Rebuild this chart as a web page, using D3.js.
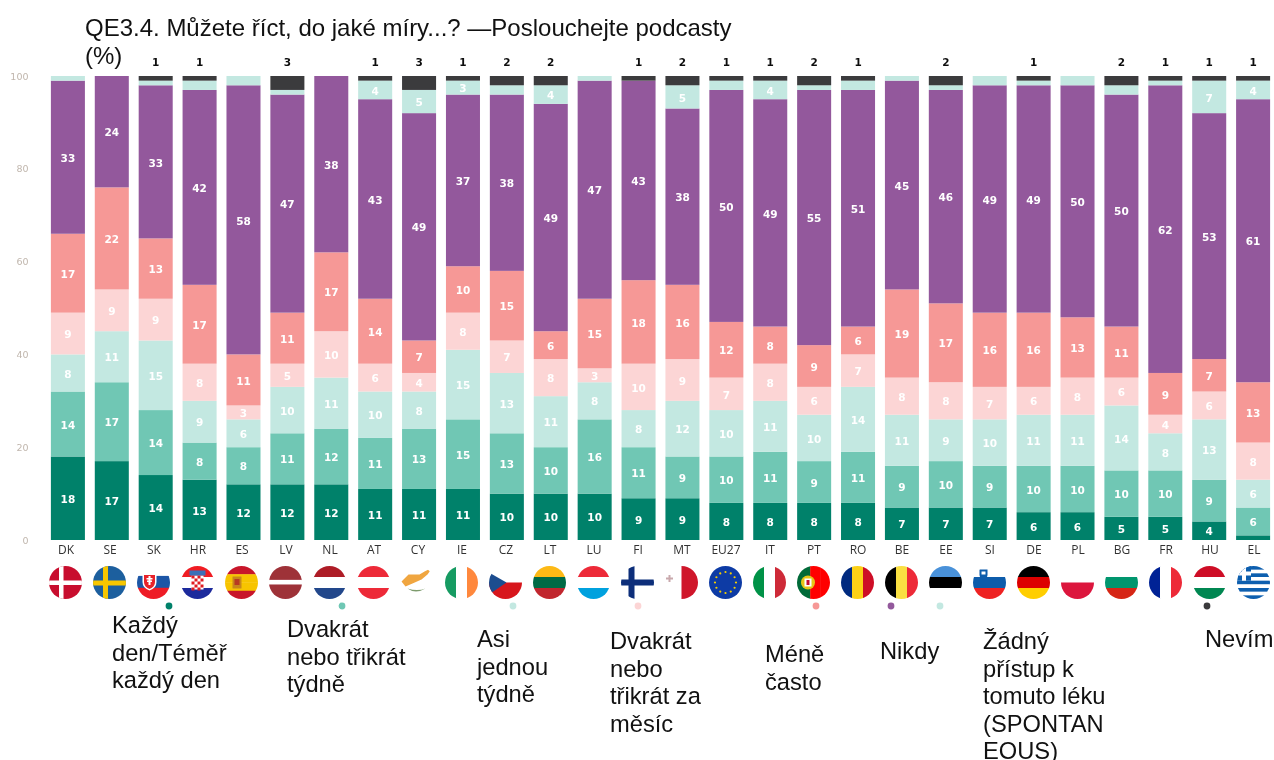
<!DOCTYPE html>
<html lang="cs"><head><meta charset="utf-8">
<script src="https://cdnjs.cloudflare.com/ajax/libs/d3/7.8.5/d3.min.js"></script>
<style>html,body{margin:0;background:#fff}svg{display:block}
.big{font-family:"Liberation Sans",Arial,sans-serif;font-size:23.7px;fill:#111}
.ttl{font-size:24px}
</style></head><body><svg id="c" width="1274" height="760"></svg>
<script>
const categories=["DK","SE","SK","HR","ES","LV","NL","AT","CY","IE","CZ","LT","LU","FI","MT","EU27","IT","PT","RO","BE","EE","SI","DE","PL","BG","FR","HU","EL"];
const daily=[18,17,14,13,12,12,12,11,11,11,10,10,10,9,9,8,8,8,8,7,7,7,6,6,5,5,4,1];
const twiceWeek=[14,17,14,8,8,11,12,11,13,15,13,10,16,11,9,10,11,9,11,9,10,9,10,10,10,10,9,6];
const weekly=[8,11,15,9,6,10,11,10,8,15,13,11,8,8,12,10,11,10,14,11,9,10,11,11,14,8,13,6];
const twiceMonth=[9,9,9,8,3,5,10,6,4,8,7,8,3,10,9,7,8,6,7,8,8,7,6,8,6,4,6,8];
const lessOften=[17,22,13,17,11,11,17,14,7,10,15,6,15,18,16,12,8,9,6,19,17,16,16,13,11,9,7,13];
const never=[33,24,33,42,58,47,38,43,49,37,38,49,47,43,38,50,49,55,51,45,46,49,49,50,50,62,53,61];
const noAccess=[1,0,1,2,2,1,0,4,5,3,2,4,1,0,5,2,4,1,2,1,1,2,1,2,2,1,7,4];
const dontKnow=[0,0,1,1,0,3,0,1,3,1,2,2,0,1,2,1,1,2,1,0,2,0,1,0,2,1,1,1];
const seriesNames=["Každý den/Téměř každý den","Dvakrát nebo třikrát týdně","Asi jednou týdně","Dvakrát nebo třikrát za měsíc","Méně často","Nikdy","Žádný přístup k tomuto léku (SPONTANEOUS)","Nevím"];
const seriesValues=[daily,twiceWeek,weekly,twiceMonth,lessOften,never,noAccess,dontKnow];
const seriesColors=["#00816a","#6fc7b4","#c3e8e1","#fcd5d5","#f69896","#93599c","#c3e8e1","#3b3a3c"];
const yTicks=[0,20,40,60,80,100];
const titleLines=["QE3.4. Můžete říct, do jaké míry...? —Poslouchejte podcasty","(%)"];
const legendLines=[["Každý","den/Téměř","každý den"],["Dvakrát","nebo třikrát","týdně"],["Asi","jednou","týdně"],["Dvakrát","nebo","třikrát za","měsíc"],["Méně","často"],["Nikdy"],["Žádný","přístup k","tomuto léku","(SPONTAN","EOUS)"],["Nevím"]];
const legendDotX=[169,342,513,638,816,891,940,1207];
const legendTextX=[112,287,477,610,765,880,983,1205];
const legendTextY=[633,637,647,649,662,659,649,647];
const flagDefs={DK:["h",["#c8102e"]],SE:["h",["#1f5f9e"]],SK:["h",["#fff","#1b56a6","#ee1c25"],[.3,.36,.34]],HR:["h",["#f01c24","#fff","#1f2a9c"]],ES:["h",["#c8152b","#f7c400","#f7c400","#c8152b"]],LV:["h",["#9e3039","#fff","#9e3039"],[.42,.14,.44]],NL:["h",["#ae1c28","#fff","#21468b"]],AT:["h",["#ed2939","#fff","#ed2939"]],CY:["h",["#fff"]],IE:["v",["#169b62","#fff","#ff883e"]],CZ:["h",["#fff","#d7141a"]],LT:["h",["#fdb913","#006a44","#c1272d"]],LU:["h",["#ed2939","#fff","#00a1de"]],FI:["h",["#fff"]],MT:["v",["#fff","#cf142b"]],EU27:["h",["#0b3aa5"]],IT:["v",["#009246","#fff","#ce2b37"]],PT:["v",["#046a38","#ff0000","#ff0000"],[.4,.3,.3]],RO:["v",["#002b7f","#fcd116","#ce1126"]],BE:["v",["#000","#fae042","#ed2939"]],EE:["h",["#4891d9","#000","#fff"]],SI:["h",["#fff","#0a5bab","#ee2424"]],DE:["h",["#000","#dd0000","#ffce00"]],PL:["h",["#fff","#dc143c"]],BG:["h",["#fff","#00966e","#d62612"]],FR:["v",["#002395","#fff","#ed2939"]],HU:["h",["#ce1126","#fff","#008751"]],EL:["h",["#0d5eaf","#fff","#0d5eaf","#fff","#0d5eaf","#fff","#0d5eaf","#fff","#0d5eaf"]]};

const svg=d3.select("#c");
const defs=svg.append("defs");
defs.append("filter").attr("id","soft").attr("x","-2%").attr("y","-2%").attr("width","104%").attr("height","104%").append("feGaussianBlur").attr("stdDeviation",0.5);
const x=d3.scaleBand().domain(categories).range([46.5,1274.5]).paddingInner(0.225).paddingOuter(0.1);
const y=d3.scaleLinear().domain([0,100]).range([540,76]);
const chart=svg.append("g").attr("filter","url(#soft)");

const yAxis=d3.axisLeft(y).tickValues(yTicks).tickSize(0);
const yg=chart.append("g").attr("transform","translate(28.5,0)").call(yAxis);
yg.select(".domain").remove();
yg.selectAll("text").attr("fill","#c0b6ad").attr("font-family","'DejaVu Sans'").attr("font-size",9.5).attr("x",0).attr("dy","0.32em");

const stackData=categories.map((c,i)=>{const o={c};seriesNames.forEach((s,k)=>o[s]=seriesValues[k][i]);return o;});
const stacked=d3.stack().keys(seriesNames)(stackData);
stacked.forEach((layer,k)=>{
  const g=chart.append("g");
  g.selectAll("rect").data(layer).join("rect")
   .attr("x",d=>x(d.data.c)).attr("width",x.bandwidth())
   .attr("y",d=>y(d[1])).attr("height",d=>y(d[0])-y(d[1]))
   .attr("fill",seriesColors[k]);
  g.selectAll("text").data(layer.filter(d=>{const v=d[1]-d[0];return k<7?v>=3:v>=1;})).join("text")
   .attr("x",d=>x(d.data.c)+x.bandwidth()/2)
   .attr("y",d=>k<7?y((d[0]+d[1])/2)+1:62.5)
   .attr("dy","0.35em").attr("text-anchor","middle")
   .attr("font-family","'DejaVu Sans'").attr("font-weight",700).attr("font-size",10.5)
   .attr("fill",k<7?"#fff":"#111")
   .text(d=>d[1]-d[0]);
});
const labelX=d3.scalePoint().domain(categories).range([66,1254]);
chart.append("g").selectAll("text").data(categories).join("text")
  .attr("x",d=>labelX(d)).attr("y",549.5).attr("dy","0.35em").attr("text-anchor","middle")
  .attr("font-family","'Open Sans'").attr("font-size",12).attr("fill","#333").text(d=>d);

// flags
const fx=d3.scalePoint().domain(categories).range([65.5,1253.5]);
const R=16.5, fy=582.5;
const flags=chart.append("g");
categories.forEach(c=>{
  const id="f"+c; defs.append("clipPath").attr("id",id).append("circle").attr("r",R);
  const g=flags.append("g").attr("transform",`translate(${fx(c)},${fy})`).attr("clip-path",`url(#${id})`);
  const [dir,cols,w]=flagDefs[c];
  const weights=w||cols.map(()=>1/cols.length);
  let pos=-R;
  cols.forEach((col,i)=>{const s=weights[i]*2*R;
    if(dir==="h")g.append("rect").attr("x",-R).attr("y",pos).attr("width",2*R).attr("height",s+.3).attr("fill",col);
    else g.append("rect").attr("x",pos).attr("y",-R).attr("width",s+.3).attr("height",2*R).attr("fill",col);
    pos+=s;});
  const r=(a,b,w,h,f)=>g.append("rect").attr("x",a).attr("y",b).attr("width",w).attr("height",h).attr("fill",f);
  const p=(d,f)=>g.append("path").attr("d",d).attr("fill",f);
  if(c==="DK"){r(-6.5,-R,4.5,2*R,"#fff");r(-R,-2,2*R,4.5,"#fff");}
  if(c==="SE"){r(-6.5,-R,5,2*R,"#f7c600");r(-R,-2,2*R,5,"#f7c600");}
  if(c==="FI"){r(-9,-R,6,2*R,"#0b2f7a");r(-R,-3,2*R,6,"#0b2f7a");}
  if(c==="CZ"){p("M-16.5,-10 L1,0 L-16.5,12Z","#1d4e8f");r(-R,-R,2*R,6.5,"#fff");}
  if(c==="SK"){p("M-11,-8.5 h14 v8 q0,6 -7,8.5 q-7,-2.5 -7,-8.5z","#fff");p("M-9.5,-7.5 h11 v7 q0,5 -5.5,7 q-5.5,-2 -5.5,-7z","#e8242c");r(-5,-6.5,2,9,"#fff");r(-7,-4.5,6,1.5,"#fff");r(-6.5,-2,5,1.5,"#fff");}
  if(c==="SI"){p("M-10,-13 h8 v5 q0,4 -4,5 q-4,-1 -4,-5z","#0a5bab");p("M-8,-11 h4 v3 h-4z","#fff");}
  if(c==="HR"){r(-6,-7,12,14,"#fff");d3.range(4).forEach(a=>d3.range(5).forEach(b=>{if((a+b)%2==0)r(-6+a*3,-7+b*3,3,3,"#e01e24");}));r(-8,-12,16,5,"#3a6fb8");}
  if(c==="ES"){r(-9,-6,9,12,"#c8871e");r(-7,-3.5,5,6,"#b83a20");}
  if(c==="PT"){g.append("circle").attr("cx",-5.5).attr("r",7).attr("fill","#e6c619");r(-9,-4,7,8,"#fff");r(-7,-2.5,3,5,"#c8102e");}
  if(c==="EL"){r(-R,-R,14,14.7,"#0d5eaf");r(-11.5,-R,4,14.7,"#fff");r(-R,-11,14,4,"#fff");}
  if(c==="MT"){r(-13,-7.5,2,7,"#c9a9ad");r(-15.5,-5,7,2,"#c9a9ad");}
  if(c==="CY"){p("M-16,-1 L-9,-8 L2,-8 L7,-11 L15,-15 L10,-8 L4,-3 L-5,1 L-12,4Z","#f0a641");p("M-10,6 Q-2,12 8,6 Q0,9 -10,6Z","#7d9b6d");}
  if(c==="EU27"){d3.range(12).forEach(a=>{const t=a*Math.PI/6;g.append("circle").attr("cx",10.5*Math.cos(t)).attr("cy",10.5*Math.sin(t)).attr("r",1.1).attr("fill","#f5d000");});}
});

// text and dots
svg.append("g").selectAll("circle").data(legendDotX).join("circle")
  .attr("cx",d=>d).attr("cy",606).attr("r",3.4).attr("fill",(d,i)=>seriesColors[i]);
svg.append("g").selectAll("text").data(titleLines).join("text").attr("class","big ttl")
  .attr("x",85).attr("y",(d,i)=>36+i*27.5).text(d=>d);
legendLines.forEach((lines,k)=>{
  svg.append("g").selectAll("text").data(lines).join("text").attr("class","big")
    .attr("x",legendTextX[k]).attr("y",(d,i)=>legendTextY[k]+i*27.5).text(d=>d);
});
</script></body></html>
